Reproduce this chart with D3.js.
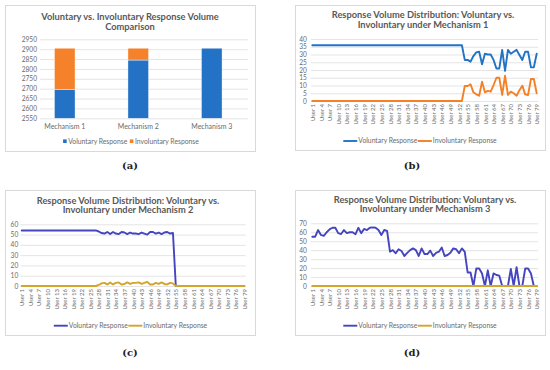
<!DOCTYPE html>
<html><head><meta charset="utf-8">
<script src="https://cdn.jsdelivr.net/npm/d3@7"></script>
<style>body{margin:0;background:#fff}svg{display:block}</style>
</head><body>
<svg id="c" width="550" height="370"></svg>
<script>
// ---------- DATA ----------
const mechanisms = ["Mechanism 1", "Mechanism 2", "Mechanism 3"];
const volTotals = [2695, 2845, 2905];
const invTotals = [210, 60, 0];
const barTicks = [2550, 2600, 2650, 2700, 2750, 2800, 2850, 2900, 2950];

const users = d3.range(1, 80).map(i => "User " + i);
const userTicks = users.filter((d, i) => i % 3 === 0);

const mech1Vol = [36,36,36,36,36,36,36,36,36,36,36,36,36,36,36,36,36,36,36,36,
  36,36,36,36,36,36,36,36,36,36,36,36,36,36,36,36,36,36,36,36,
  36,36,36,36,36,36,36,36,36,36,36,36,36,
  26.5,26.5,25.4,29,31.4,31.8,23.7,30.5,30,30,26.5,21,21,33,19.4,33,30.5,31.8,33,29.7,26.5,31.8,31.8,21.7,21.7,30.5];
const mech1Inv = [0,0,0,0,0,0,0,0,0,0,0,0,0,0,0,0,0,0,0,0,
  0,0,0,0,0,0,0,0,0,0,0,0,0,0,0,0,0,0,0,0,
  0,0,0,0,0,0,0,0,0,0,0,0,0,
  9.7,9.7,10.8,5.6,4.3,3.4,12.5,5.6,6.5,6,10.3,15,15,3.9,16.3,3.9,6,5,3.4,7,9.9,4.3,3.9,14.2,14.2,5];
const ticks1 = [0, 5, 10, 15, 20, 25, 30, 35, 40];

const mech2Vol = [54,54,54,54,54,54,54,54,54,54,54,54,54,54,54,54,54,54,54,54,54,54,54,54,54,54,54,
  53,51.5,51,52.5,50.5,52.5,51,50.5,52.5,52,50.5,52,51,51,50.5,52,51,50,52.5,52.5,51,52,50.5,52,52.5,51,51.5,
  0,0,0,0,0,0,0,0,0,0,0,0,0,0,0,0,0,0,0,0,0,0,0,0,0];
const mech2Inv = [0,0,0,0,0,0,0,0,0,0,0,0,0,0,0,0,0,0,0,0,0,0,0,0,0,0,0,
  1,2.5,3,1.5,3.5,1.5,3,3.5,1.5,2,3.5,2,3,3,3.5,2,3,4,1.5,1.5,3,2,3.5,2,1.5,3,2.5,
  0,0,0,0,0,0,0,0,0,0,0,0,0,0,0,0,0,0,0,0,0,0,0,0,0];
const ticks2 = [0, 10, 20, 30, 40, 50, 60];

const mech3Vol = [55,55,62.5,57,56,60,63.3,65,65,59,58,62.5,59,60,60,57.7,65,59,63.7,62.5,65,65.5,65,62.5,57,62.5,61.4,
  38.3,40,36.5,41,39,33.5,37,40,42,40,33.5,42,35.7,35.7,39.5,33.5,37,38.3,43,33.5,34.6,37,42,41,36.5,42,38,
  15,15,0,19.5,19.5,14,0,17.5,0,14,12.3,11.5,0,0,0,19,0,21,0,0,19.5,19.5,14,0,0];
const mech3Inv = [0,0,0,0,0,0,0,0,0,0,0,0,0,0,0,0,0,0,0,0,0,0,0,0,0,0,0,
  0,0,0,0,0,0,0,0,0,0,0,0,0,0,0,0,0,0,0,0,0,0,0,0,0,0,0,
  0,0,0,0,0,0,0,0,0,0,0,0,0,0,0,0,0,0,0,0,0,0,0,0,0];
const ticks3 = [0, 10, 20, 30, 40, 50, 60, 70];

const seriesNames = ["Voluntary Response", "Involuntary Response"];

// ---------- STYLE ----------
const FONT = "Lato, 'Open Sans', sans-serif";
const TXT = "#595959";
const TICK = "#6b6b6b";
const GRID = "#d9d9d9";
const svg = d3.select("#c");

function box(x, y, w, h) {
  svg.append("rect").attr("x", x + 0.5).attr("y", y + 0.5).attr("width", w).attr("height", h)
    .attr("fill", "#fff").attr("stroke", GRID).attr("stroke-width", 1);
}
function title(lines, cx, y0, dy) {
  lines.forEach((t, i) => svg.append("text").attr("x", cx).attr("y", y0 + i * dy)
    .attr("text-anchor", "middle").attr("font-family", FONT).attr("font-weight", "bold")
    .attr("font-size", 9.3).attr("fill", TXT).text(t));
}
function styleAxis(g) {
  g.select(".domain").remove();
  g.selectAll("line").attr("stroke", GRID).attr("stroke-width", 0.7);
  g.selectAll("text").attr("font-family", FONT).attr("fill", TICK);
}
// legend laid out from measured text widths, centred at cx
function legend(cx, cy, items, kind) {
  const g = svg.append("g");
  const mw = kind === "square" ? 3.6 : 14;
  let x = 0;
  items.forEach(([c, t], i) => {
    if (kind === "square") {
      g.append("rect").attr("x", x).attr("y", cy - 1.8).attr("width", 3.6).attr("height", 3.6).attr("fill", c);
    } else {
      g.append("line").attr("x1", x).attr("x2", x + mw).attr("y1", cy).attr("y2", cy)
        .attr("stroke", c).attr("stroke-width", 1.9);
    }
    x += mw + (kind === "square" ? 1.6 : 1);
    const tx = g.append("text").attr("x", x).attr("y", cy + 2.3).attr("font-family", FONT)
      .attr("font-size", 6.8).attr("fill", TICK).text(t);
    x += tx.node().getComputedTextLength() + (i < items.length - 1 ? (kind === "square" ? 2.5 : 0.5) : 0);
  });
  g.attr("transform", `translate(${cx - x / 2},0)`);
}

// ---------- PANEL A ----------
box(5, 5, 250, 146);
title(["Voluntary vs. Involuntary Response Volume", "Comparison"], 130, 19.5, 10);
const ya = d3.scaleLinear().domain([2550, 2950]).range([118.3, 39.3]);
const xa = d3.scaleBand().domain(mechanisms).range([28, 248.5]).paddingInner(0.72).paddingOuter(0.36);
const gya = svg.append("g").attr("transform", "translate(40,0)")
  .call(d3.axisLeft(ya).tickValues(barTicks).tickSize(-208).tickPadding(3).tickFormat(d3.format("d")));
styleAxis(gya); gya.selectAll("text").attr("font-size", 6.6);
const gxa = svg.append("g").attr("transform", `translate(0,${ya(2550)})`)
  .call(d3.axisBottom(xa).tickSize(0).tickPadding(6));
styleAxis(gxa); gxa.selectAll("text").attr("font-size", 7);

const stackData = mechanisms.map((m, i) => ({ m, vol: volTotals[i], inv: invTotals[i] }));
const barColors = { vol: "#2372c6", inv: "#f5822a" };
const layers = d3.stack().keys(["vol", "inv"])(stackData);
layers.forEach(layer => {
  svg.append("g").selectAll("rect").data(layer).join("rect")
    .attr("x", d => xa(d.data.m)).attr("width", xa.bandwidth())
    .attr("y", d => ya(Math.max(d[1], 2550)))
    .attr("height", d => Math.max(0, ya(Math.max(d[0], 2550)) - ya(Math.max(d[1], 2550))))
    .attr("fill", barColors[layer.key]).attr("stroke", "#fff").attr("stroke-width", 0.4);
});
legend(131, 141.2, [["#2372c6", seriesNames[0]], ["#f5822a", seriesNames[1]]], "square");

// ---------- LINE PANELS ----------
function linePanel(o) {
  box(o.bx, o.by, 250, 145);
  title(o.title, o.tcx, o.ty, 9.6);
  const y = d3.scaleLinear().domain([0, o.ticks[o.ticks.length - 1]]).range([o.y0, o.y1]);
  const x = d3.scalePoint().domain(users).range([o.x0, o.x1]);
  const half = x.step() / 2;
  const gy = svg.append("g").attr("transform", `translate(${o.x0 - half},0)`)
    .call(d3.axisLeft(y).tickValues(o.ticks).tickSize(-(o.x1 - o.x0 + 2 * half)).tickPadding(o.pad));
  styleAxis(gy); gy.selectAll("text").attr("font-size", 6.6);
  const gx = svg.append("g").attr("transform", `translate(0,${o.y0})`)
    .call(d3.axisBottom(x).tickValues(userTicks).tickSize(0).tickPadding(0));
  styleAxis(gx);
  gx.selectAll("text").attr("font-size", 6).attr("text-anchor", "end")
    .attr("transform", "translate(0,3) rotate(-90)").attr("dy", "0.35em").attr("dx", "0").attr("y", 0).attr("x", 0);
  const line = d3.line().x((d, i) => x(users[i])).y(d => y(d)).curve(d3.curveLinear);
  [[o.vol, o.c1], [o.inv, o.c2]].forEach(([d, c]) => {
    svg.append("path").datum(d).attr("d", line).attr("fill", "none").attr("stroke", c)
      .attr("stroke-width", 1.9).attr("stroke-linejoin", "round").attr("stroke-linecap", "round");
  });
  legend(o.lcx, o.ly, [[o.c1, seriesNames[0]], [o.c2, seriesNames[1]]], "line");
}

linePanel({ bx: 295, by: 5, title: ["Response Volume Distribution: Voluntary vs.", "Involuntary under Mechanism 1"],
  tcx: 423, ty: 18, ticks: ticks1, y0: 101, y1: 39, x0: 312.3, x1: 536.7, pad: 4,
  vol: mech1Vol, inv: mech1Inv, c1: "#2273c3", c2: "#f58025", ly: 141, lcx: 420 });
linePanel({ bx: 5, by: 190, title: ["Response Volume Distribution: Voluntary vs.", "Involuntary under Mechanism 2"],
  tcx: 128, ty: 203.5, ticks: ticks2, y0: 286, y1: 224.3, x0: 21.7, x1: 244.3, pad: 2,
  vol: mech2Vol, inv: mech2Inv, c1: "#4545c0", c2: "#d4a52c", ly: 325.7, lcx: 130.5 });
linePanel({ bx: 295, by: 190, title: ["Response Volume Distribution: Voluntary vs.", "Involuntary under Mechanism 3"],
  tcx: 425, ty: 202.5, ticks: ticks3, y0: 286, y1: 223.3, x0: 312.3, x1: 536.7, pad: 4,
  vol: mech3Vol, inv: mech3Inv, c1: "#4545c0", c2: "#d4a52c", ly: 325.7, lcx: 420 });

// ---------- SUBCAPTIONS ----------
[["(a)", 130, 169], ["(b)", 412, 169], ["(c)", 130, 356], ["(d)", 412, 356]].forEach(([t, x, y]) => {
  svg.append("text").attr("x", x).attr("y", y).attr("text-anchor", "middle")
    .attr("font-family", "'DejaVu Serif', 'Liberation Serif', serif").attr("font-weight", "bold")
    .attr("font-size", 10).attr("fill", "#222").text(t);
});
</script>
</body></html>
